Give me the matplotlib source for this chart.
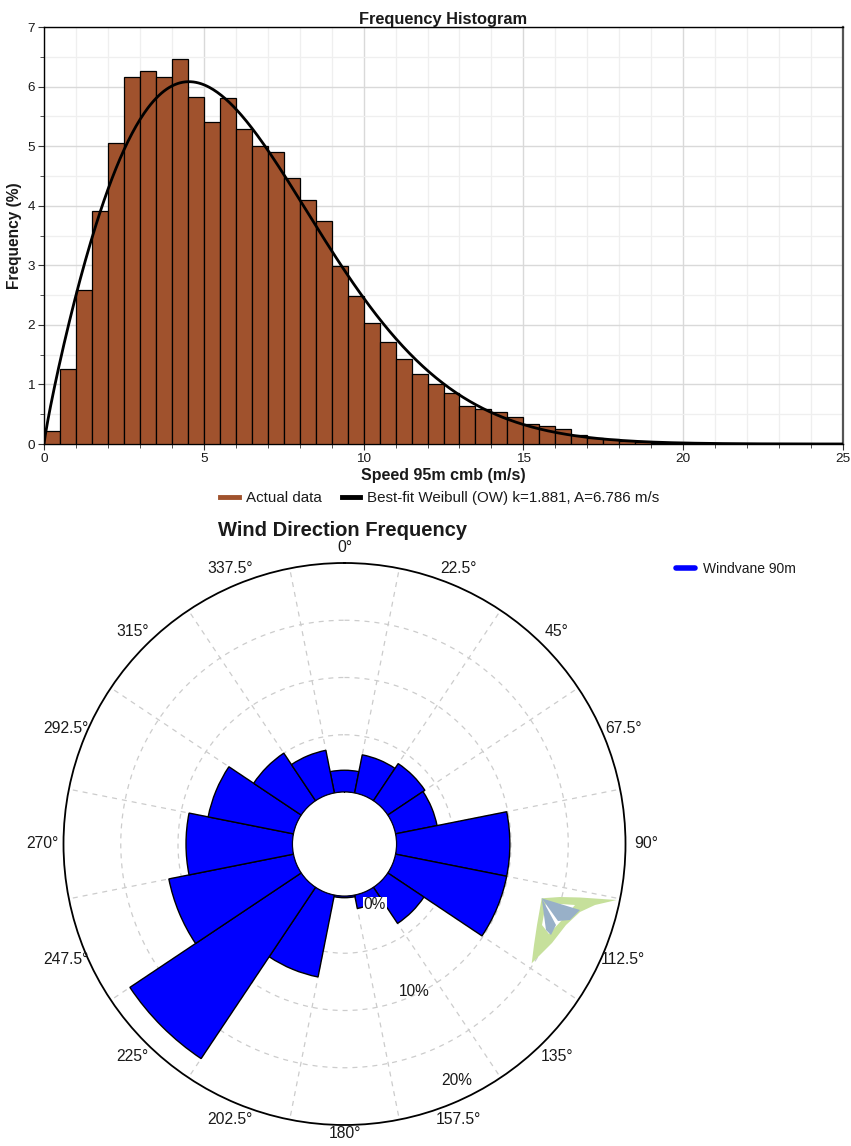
import numpy as np
import matplotlib
matplotlib.use("Agg")
import matplotlib.pyplot as plt
from matplotlib.lines import Line2D
from matplotlib.patches import Polygon
from matplotlib.ticker import MultipleLocator

plt.rcParams['font.family'] = ['Liberation Sans', 'DejaVu Sans']

# ---------------- data ----------------
bin_width = 0.5
bin_starts = np.arange(0, 25, bin_width)
freq_pct = [0.22, 1.26, 2.58, 3.91, 5.05, 6.16, 6.26, 6.16, 6.47, 5.83,
            5.40, 5.81, 5.28, 5.00, 4.90, 4.47, 4.09, 3.74, 2.98, 2.48,
            2.03, 1.72, 1.43, 1.17, 1.00, 0.86, 0.63, 0.59, 0.53, 0.46,
            0.34, 0.31, 0.26, 0.15, 0.10, 0.08, 0.05, 0.03, 0.02, 0.01,
            0.0, 0.0, 0.0, 0.0, 0.0, 0.0, 0.0, 0.0, 0.0, 0.0]
weibull_k = 1.881
weibull_A = 6.786

directions = [0, 22.5, 45, 67.5, 90, 112.5, 135, 157.5,
              180, 202.5, 225, 247.5, 270, 292.5, 315, 337.5]
dir_freq = [1.9, 3.4, 3.9, 3.7, 9.9, 9.9, 3.8, 1.2,
            0.15, 7.3, 18.0, 11.1, 9.3, 7.6, 5.0, 3.8]
dir_labels = ['0°', '22.5°', '45°', '67.5°', '90°', '112.5°', '135°', '157.5°',
              '180°', '202.5°', '225°', '247.5°', '270°', '292.5°', '315°', '337.5°']
ring_labels = ['0%', '10%', '20%']

W, H = 851, 1146
fig = plt.figure(figsize=(W / 100, H / 100), dpi=100)
TXT = '#1a1a1a'

# ---------------- histogram ----------------
l, r, t, b = 44, 843, 27, 444
ax1 = fig.add_axes([l / W, 1 - b / H, (r - l) / W, (b - t) / H])
ax1.bar(bin_starts, freq_pct, width=bin_width, align='edge', color='#A0522D',
        edgecolor='black', linewidth=0.9, zorder=3)
xs = np.linspace(0, 25, 600)
pdf = (weibull_k / weibull_A) * (xs / weibull_A) ** (weibull_k - 1) * np.exp(-(xs / weibull_A) ** weibull_k)
ax1.plot(xs, pdf * bin_width * 100, color='black', lw=2.0, zorder=4)
ax1.set_xlim(0, 25)
ax1.set_ylim(0, 7)
ax1.xaxis.set_major_locator(MultipleLocator(5))
ax1.xaxis.set_minor_locator(MultipleLocator(1))
ax1.yaxis.set_major_locator(MultipleLocator(1))
ax1.yaxis.set_minor_locator(MultipleLocator(0.5))
ax1.grid(which='major', color='#d9d9d9', lw=1.0, zorder=0)
ax1.grid(which='minor', color='#efefef', lw=0.9, zorder=0)
ax1.set_axisbelow(True)
ax1.tick_params(which='both', direction='out', colors='#333333', labelcolor=TXT, labelsize=9.7)
ax1.tick_params(which='major', length=4, pad=2.5)
ax1.tick_params(which='minor', length=3)
for s in ['left', 'bottom', 'top']:
    ax1.spines[s].set_color('black')
    ax1.spines[s].set_linewidth(1.0)
ax1.spines['right'].set_color('#555555')
ax1.spines['right'].set_linewidth(1.6)
ax1.set_title('Frequency Histogram', fontsize=11.8, fontweight='bold', color=TXT, pad=2)
ax1.set_xlabel('Speed 95m cmb (m/s)', fontsize=11.5, fontweight='bold', color=TXT, labelpad=2)
ax1.set_ylabel('Frequency (%)', fontsize=11.2, fontweight='bold', color=TXT, labelpad=4)

h1 = Line2D([], [], color='#A0522D', lw=3.5)
h2 = Line2D([], [], color='black', lw=3.5)
fig.legend([h1, h2], ['Actual data', 'Best-fit Weibull (OW) k=1.881, A=6.786 m/s'],
           loc='center', bbox_to_anchor=(440 / W, 1 - 498 / H), ncol=2, frameon=False,
           fontsize=10.9, handlelength=1.2, columnspacing=1.3, handletextpad=0.5,
           labelcolor=TXT)

# ---------------- wind rose ----------------
cx, cy, R = 344.5, 844, 281
hole = 52
rmax = 20
px_per = (R - hole) / rmax
ax2 = fig.add_axes([(cx - R) / W, 1 - (cy + R) / H, 2 * R / W, 2 * R / H], projection='polar')
ax2.set_theta_zero_location('N')
ax2.set_theta_direction(-1)
ax2.set_ylim(0, rmax)
ax2.set_rorigin(-hole / px_per)
theta = np.deg2rad(directions)
ax2.bar(theta, dir_freq, width=np.deg2rad(22.5), bottom=0, color='#0000FF',
        edgecolor='black', linewidth=1.0, zorder=3, label='Windvane 90m')
ax2.set_thetagrids(np.arange(11.25, 360, 22.5), labels=[''] * 16)
ax2.set_rgrids([5, 10, 15], labels=['', '', ''])
ax2.grid(True, color='#cccccc', linestyle=(0, (4, 4)), lw=0.9)
ax2.set_axisbelow(True)
ax2.spines['polar'].set_color('black')
ax2.spines['polar'].set_linewidth(1.3)
try:
    ax2.spines['inner'].set_visible(False)
except KeyError:
    pass
for d, lab in zip(directions, dir_labels):
    rp = 290 if d == 180 else (296 + 6 * abs(np.sin(np.deg2rad(d))))
    ax2.text(np.deg2rad(d), (rp - hole) / px_per, lab, ha='center', va='center',
             fontsize=11.3, color=TXT, clip_on=False)
ring_pos = [(1.4, 153.4), (9.7, 154.6), (18.3, 154.6)]
for (rr, aa), lab in zip(ring_pos, ring_labels):
    kw = {}
    if lab == '0%':
        kw['bbox'] = dict(boxstyle='square,pad=0.05', fc='white', ec='none')
    ax2.text(np.deg2rad(aa), rr, lab, ha='center', va='center', fontsize=11.2,
             color=TXT, zorder=5, **kw)

fig.text(343 / W, 1 - 531 / H, 'Wind Direction Frequency', ha='center', va='center',
         fontsize=14.5, fontweight='bold', color=TXT)
hl = Line2D([], [], color='#0000FF', lw=4, solid_capstyle='round')
fig.legend([hl], ['Windvane 90m'], loc='center left', bbox_to_anchor=(663 / W, 1 - 569 / H),
           frameon=False, fontsize=10, handlelength=1.4, handletextpad=0.6, labelcolor=TXT)

# small decorative glyph near 112.5 deg
def P(pts):
    return [(x / W, 1 - y / H) for x, y in pts]
green = P([(541.7, 898.3), (560, 897), (580, 897.5), (616.7, 900), (595, 905), (580, 912),
           (566, 925), (552, 943), (531.7, 963.3), (534, 945), (537, 925)])
fig.patches.append(Polygon(green, closed=True, fc='#c6e09b', ec='none', transform=fig.transFigure))
white = P([(546, 903), (575, 905), (562, 920), (549, 934), (542, 925)])
fig.patches.append(Polygon(white, closed=True, fc='white', ec='none', transform=fig.transFigure))
blue1 = P([(541.7, 898.3), (580, 910), (570, 920), (558, 921)])
blue2 = P([(541.7, 898.3), (556, 925), (551, 935), (546, 930)])
for bp in (blue1, blue2):
    fig.patches.append(Polygon(bp, closed=True, fc='#98b0c8', ec='none', transform=fig.transFigure))

fig.savefig('out.png', dpi=100, facecolor='white')
